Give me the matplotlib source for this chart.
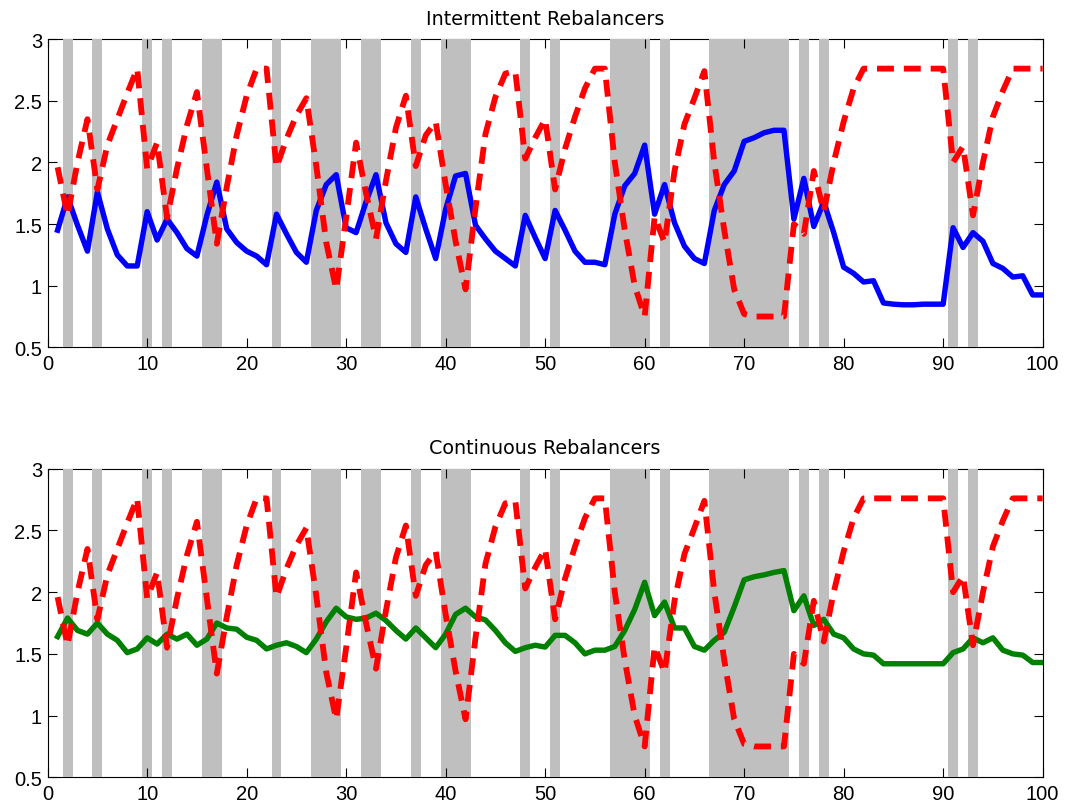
import numpy as np
import matplotlib
matplotlib.use('Agg')
import matplotlib.pyplot as plt

# ---- Data ----
periods = np.arange(1, 101)

# periods shaded grey (each covers period-0.5 .. period+0.5)
shaded = [2, 5, 10, 12, 16, 17, 23, 27, 28, 29, 32, 33, 37, 40, 41, 42, 48, 51,
          57, 58, 59, 60, 62, 67, 68, 69, 70, 71, 72, 73, 74, 76, 78, 91, 93]

benchmark = [1.96, 1.57, 2.00, 2.35, 1.78, 2.14, 2.35, 2.56, 2.76, 1.95,
             2.16, 1.55, 1.95, 2.30, 2.57, 1.95, 1.34, 1.80, 2.22, 2.54,
             2.76, 2.76, 1.96, 2.19, 2.38, 2.52, 1.97, 1.35, 0.97, 1.55,
             2.16, 1.75, 1.38, 1.85, 2.28, 2.54, 1.97, 2.22, 2.33, 1.82,
             1.36, 0.97, 1.63, 2.23, 2.53, 2.72, 2.74, 2.03, 2.20, 2.35,
             1.78, 2.11, 2.37, 2.60, 2.76, 2.76, 2.00, 1.45, 1.00, 0.75,
             1.56, 1.35, 1.93, 2.31, 2.52, 2.74, 2.00, 1.45, 0.97, 0.77,
             0.75, 0.75, 0.75, 0.75, 1.50, 1.42, 1.93, 1.60, 2.00, 2.33,
             2.60, 2.76, 2.76, 2.76, 2.76, 2.76, 2.76, 2.76, 2.76, 2.76,
             2.00, 2.13, 1.57, 2.00, 2.37, 2.58, 2.76, 2.76, 2.76, 2.76]

intermittent = [1.45, 1.72, 1.49, 1.28, 1.76, 1.46, 1.25, 1.16, 1.16, 1.60,
                1.37, 1.54, 1.43, 1.30, 1.24, 1.57, 1.84, 1.46, 1.35, 1.28,
                1.24, 1.17, 1.58, 1.42, 1.27, 1.19, 1.61, 1.82, 1.90, 1.47,
                1.43, 1.68, 1.90, 1.51, 1.34, 1.27, 1.72, 1.46, 1.22, 1.62,
                1.89, 1.91, 1.49, 1.38, 1.28, 1.22, 1.16, 1.57, 1.39, 1.22,
                1.61, 1.45, 1.28, 1.19, 1.19, 1.17, 1.58, 1.81, 1.91, 2.14,
                1.58, 1.82, 1.51, 1.32, 1.22, 1.18, 1.61, 1.82, 1.93, 2.17,
                2.20, 2.24, 2.26, 2.26, 1.54, 1.87, 1.48, 1.68, 1.43, 1.15,
                1.10, 1.03, 1.04, 0.86, 0.85, 0.845, 0.845, 0.85, 0.85, 0.85,
                1.47, 1.31, 1.43, 1.36, 1.18, 1.14, 1.07, 1.08, 0.925, 0.925]

continuous = [1.64, 1.79, 1.69, 1.66, 1.75, 1.66, 1.61, 1.51, 1.54, 1.63,
              1.58, 1.66, 1.62, 1.66, 1.57, 1.62, 1.75, 1.71, 1.70, 1.635,
              1.61, 1.54, 1.57, 1.59, 1.56, 1.51, 1.62, 1.76, 1.87, 1.80,
              1.78, 1.79, 1.83, 1.77, 1.69, 1.62, 1.71, 1.63, 1.55, 1.66,
              1.82, 1.87, 1.80, 1.775, 1.69, 1.59, 1.52, 1.55, 1.57, 1.555,
              1.65, 1.65, 1.59, 1.50, 1.53, 1.53, 1.56, 1.69, 1.86, 2.08,
              1.81, 1.92, 1.71, 1.71, 1.56, 1.53, 1.61, 1.675, 1.88, 2.10,
              2.125, 2.14, 2.16, 2.175, 1.85, 1.97, 1.73, 1.78, 1.66, 1.63,
              1.54, 1.50, 1.49, 1.42, 1.42, 1.42, 1.42, 1.42, 1.42, 1.42,
              1.51, 1.54, 1.63, 1.59, 1.63, 1.53, 1.50, 1.49, 1.43, 1.43]

panels = [('Intermittent Rebalancers', intermittent, (0, 0, 1)),
          ('Continuous Rebalancers', continuous, (0, 0.5, 0))]

# ---- Figure ----
fig = plt.figure(figsize=(10.66, 8.12), dpi=100)
boxes = [[0.0447, 0.571, 0.9334, 0.3797], [0.0447, 0.0415, 0.9334, 0.3800]]

for box, (title, series, col) in zip(boxes, panels):
    ax = fig.add_axes(box)
    for p in shaded:
        ax.axvspan(p - 0.5, p + 0.5, color='#bfbfbf', lw=0, zorder=1)
    ax.plot(periods, series, color=col, lw=3.9, zorder=3)
    ax.plot(periods, benchmark, color=(1, 0, 0), lw=4.2,
            linestyle=(0, (2.9, 1.7)), zorder=4)
    ax.set_xlim(0, 100); ax.set_ylim(0.5, 3)
    ax.set_xticks(np.arange(0, 101, 10))
    ax.set_yticks([0.5, 1, 1.5, 2, 2.5, 3])
    ax.set_yticklabels(['0.5', '1', '1.5', '2', '2.5', '3'])
    ax.tick_params(direction='in', length=6.5, width=0.8, top=True, right=True,
                   labelsize=14.5)
    ax.tick_params(axis='x', pad=5)
    ax.tick_params(axis='y', pad=4)
    for lab in ax.get_xticklabels() + ax.get_yticklabels():
        lab.set_fontfamily('Liberation Sans')
    for sp in ax.spines.values():
        sp.set_linewidth(0.8); sp.set_zorder(0.5)
    ax.set_title(title, fontsize=13.8, family='DejaVu Sans', pad=11)

fig.savefig('out.png', dpi=100)
